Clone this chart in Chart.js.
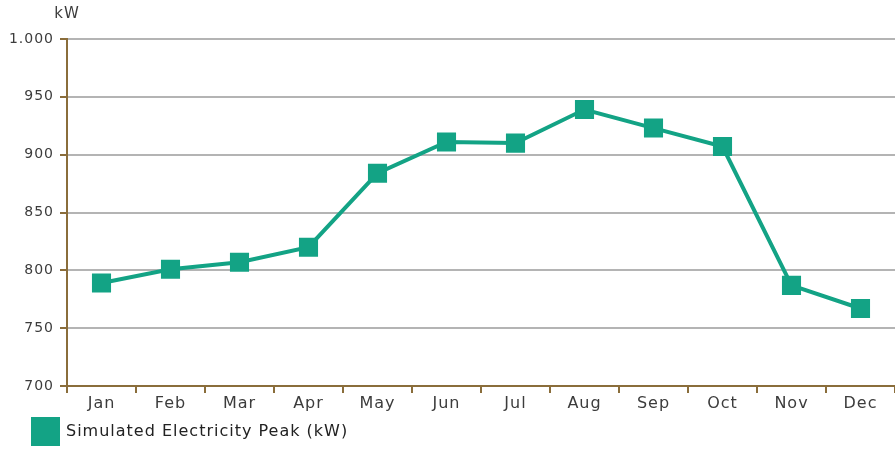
<!DOCTYPE html>
<html>
<head>
<meta charset="utf-8">
<style>
  html, body { margin: 0; padding: 0; background: #fff; overflow: hidden; }
  #wrap { width: 895px; height: 450px; position: relative; }
  canvas { display: block; }
</style>
<script src="https://cdn.jsdelivr.net/npm/chart.js@4/dist/chart.umd.min.js"></script>
</head>
<body>
<div id="wrap"><canvas id="peak-chart"></canvas></div>
<script>
var months = ['Jan', 'Feb', 'Mar', 'Apr', 'May', 'Jun', 'Jul', 'Aug', 'Sep', 'Oct', 'Nov', 'Dec'];
var peakKw = [789, 801, 807, 820, 884, 911, 910, 939, 923, 907, 787, 767];
var yTicks = [700, 750, 800, 850, 900, 950, 1000];

var teal = '#13a385';
var axisBrown = '#8a6d3b';
var gridGray = '#b4b4b4';
var labelGray = '#3c3c3c';
var fontFamily = '"DejaVu Sans", Verdana, sans-serif';

function formatThousands(v) {
  return String(v).replace(/\B(?=(\d{3})+(?!\d))/g, '.');
}

// the original renders its text with wide letter spacing
var spacing = {
  id: 'spacing',
  beforeDraw: function (chart) {
    chart.ctx.letterSpacing = '1px';
  }
};

// legend sits indented under the y axis labels, not at the canvas edge
var legendIndent = {
  id: 'legendIndent',
  afterLayout: function (chart) {
    chart.legend.left = 29;
    chart.legend.top += 4;
  }
};

var unitTitle = {
  id: 'unitTitle',
  afterDraw: function (chart) {
    var ctx = chart.ctx;
    ctx.save();
    ctx.font = '15px ' + fontFamily;
    ctx.fillStyle = labelGray;
    ctx.textAlign = 'center';
    ctx.textBaseline = 'middle';
    ctx.fillText('kW', chart.chartArea.left, 14);
    ctx.restore();
  }
};

new Chart(document.getElementById('peak-chart'), {
  type: 'line',
  data: {
    labels: months,
    datasets: [{
      label: 'Simulated Electricity Peak (kW)',
      data: peakKw,
      borderColor: teal,
      backgroundColor: teal,
      borderWidth: 4,
      pointStyle: 'rect',
      pointRadius: 13.5,
      pointHoverRadius: 13.5,
      pointBackgroundColor: teal,
      pointBorderWidth: 0,
      tension: 0,
    }],
  },
  options: {
    responsive: true,
    maintainAspectRatio: false,
    animation: false,
    layout: { autoPadding: false, padding: { top: 39, left: 0, right: 0, bottom: 0 } },
    plugins: {
      legend: {
        position: 'bottom',
        align: 'start',
        labels: {
          boxWidth: 25,
          boxHeight: 25,
          padding: 4,
          color: '#222',
          font: { family: fontFamily, size: 16 },
        },
      },
      tooltip: { enabled: false },
    },
    scales: {
      x: {
        offset: true,
        grid: {
          offset: true,
          drawOnChartArea: false,
          drawTicks: true,
          tickLength: 7,
          tickColor: axisBrown,
          lineWidth: 2,
        },
        border: { color: axisBrown, width: 2 },
        ticks: {
          color: labelGray,
          padding: 1,
          maxRotation: 0,
          font: { family: fontFamily, size: 16 },
        },
        afterFit: function (s) { s.height = 25; },
      },
      y: {
        min: 700,
        max: 1000,
        afterBuildTicks: function (s) {
          s.ticks = yTicks.map(function (v) { return { value: v }; });
        },
        grid: {
          color: gridGray,
          lineWidth: 2,
          tickLength: 7,
          tickColor: axisBrown,
        },
        border: { color: axisBrown, width: 2 },
        ticks: {
          color: labelGray,
          padding: 6,
          font: { family: fontFamily, size: 14 },
          callback: function (v) { return formatThousands(v); },
        },
        afterFit: function (s) { s.width = 67; },
      },
    },
  },
  plugins: [spacing, legendIndent, unitTitle],
});
</script>
</body>
</html>
